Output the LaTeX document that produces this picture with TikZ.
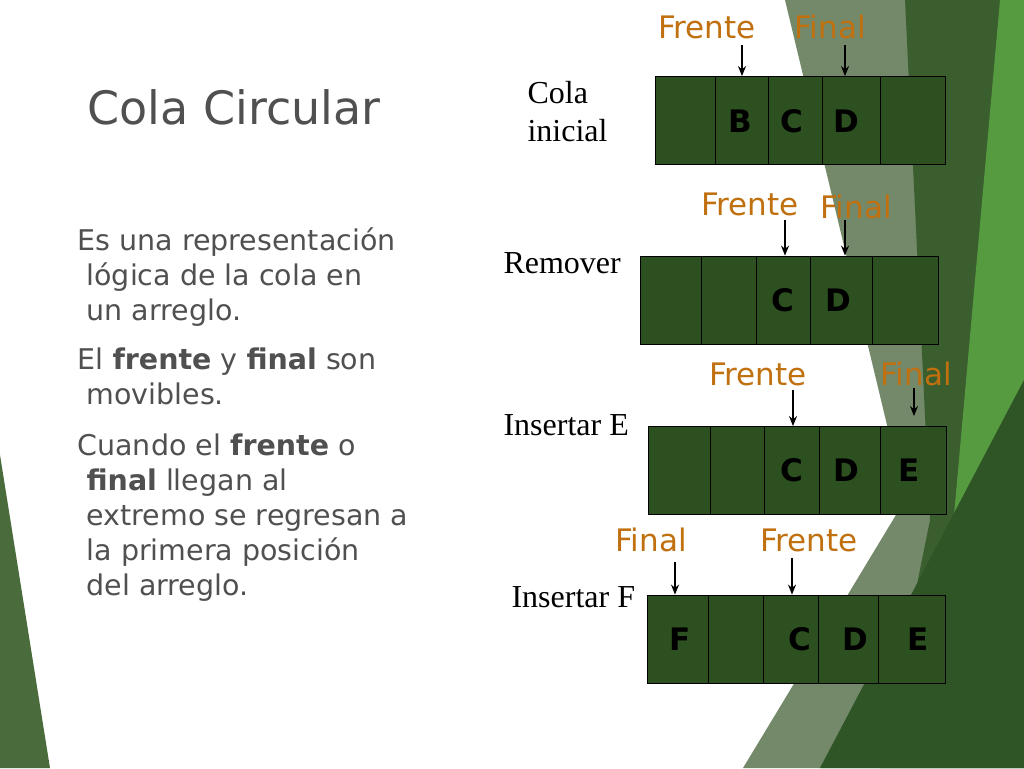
\documentclass[tikz,border=0pt]{standalone}
\usepackage{fontspec}
\setmainfont{Liberation Serif}
\newfontfamily\slidefont{DejaVu Sans}
\newfontfamily\cellfont{DejaVu Sans}
\usetikzlibrary{arrows.meta, calc}
\definecolor{cellgreen}{HTML}{2D5020}
\definecolor{ptrorange}{HTML}{C0700F}
\definecolor{textgrey}{HTML}{505050}
\definecolor{bgmid}{HTML}{74896A}
\definecolor{bgdark}{HTML}{3A5E2E}
\definecolor{bgbright}{HTML}{569B40}
\definecolor{bgdeep}{HTML}{2F5426}
\definecolor{bgleft}{HTML}{4A6B3B}
\tikzset{
  cellbox/.style={draw=black, fill=cellgreen, line width=0.9pt, minimum height=88pt, inner sep=0pt},
  letter/.style={font=\cellfont\bfseries\fontsize{31}{31}\selectfont, text=black},
  ptrlbl/.style={font=\slidefont\fontsize{31}{31}\selectfont, text=ptrorange},
  steplbl/.style={font=\fontsize{32}{38}\selectfont, text=black, anchor=west, align=left},
  ptr/.style={-{Stealth[length=10pt,width=8pt]}, line width=1.2pt},
  body/.style={font=\slidefont\fontsize{28.5}{35}\selectfont, text=textgrey, anchor=north west, align=left}
}
\begin{document}
\begin{tikzpicture}[x=1pt, y=-1pt]
    \useasboundingbox (0,0) rectangle (1024,768);

    % BACKGROUND
    \fill[white] (0,0) rectangle (1024,768);
    \fill[bgmid] (785,0) -- (1024,0) -- (1024,768) -- (743,768) -- (905,500) -- cycle;
    \fill[bgdark] (905,0) -- (1024,0) -- (1024,768) -- (880,768) -- (930,520) -- cycle;
    \fill[bgbright] (1000,0) -- (1024,0) -- (1024,640) -- (885,730) -- (950,560) -- cycle;
    \fill[bgdeep] (1024,380) -- (1024,768) -- (820,768) -- cycle;
    \fill[bgleft] (0,455) -- (50,768) -- (0,768) -- cycle;

    % TITLE AND TEXT
    \node[font=\slidefont\fontsize{46}{46}\selectfont, text=textgrey, anchor=west] (title) at (84,107) {Cola Circular};
    \node[body] (txt1) at (74,224) {Es una representación\\\ lógica de la cola en\\\ un arreglo.};
    \node[body] (txt2) at (74,344) {El \textbf{frente} y \textbf{final} son\\\ movibles.};
    \node[body] (txt3) at (74,430) {Cuando el \textbf{frente} o\\\ \textbf{final} llegan al\\\ extremo se regresan a\\\ la primera posición\\\ del arreglo.};

    % ROW 1: COLA INICIAL
    \node[steplbl] (inicial) at (524,112) {Cola\\inicial};
    \foreach \a/\b [count=\i] in {655/715,715/768,768/822,822/880,880/945}{
        \pgfmathsetmacro{\w}{\b-\a}
        \node[cellbox, minimum width=\w pt] (ra\i) at ({(\a+\b)/2},120.5) {};
    }
    \node[letter] (bA) at (740,121) {B};
    \node[letter] (cA) at (792,121) {C};
    \node[letter] (dA) at (846,121) {D};
    \node[ptrlbl] (frA) at (707,27) {Frente};
    \node[ptrlbl] (fiA) at (830,27) {Final};
    \coordinate (pfrA) at (742,45);
    \coordinate (pfiA) at (845,45);
    \draw[ptr] (pfrA) -- (pfrA |- ra2.north);
    \draw[ptr] (pfiA) -- (pfiA |- ra4.north);

    % ROW 2: REMOVER
    \node[steplbl] (remover) at (500,263) {Remover};
    \foreach \a/\b [count=\i] in {640/701,701/756,756/810,810/872,872/938}{
        \pgfmathsetmacro{\w}{\b-\a}
        \node[cellbox, minimum width=\w pt] (rb\i) at ({(\a+\b)/2},300) {};
    }
    \node[letter] (cB) at (783,300) {C};
    \node[letter] (dB) at (838,300) {D};
    \node[ptrlbl] (frB) at (750,204) {Frente};
    \node[ptrlbl] (fiB) at (856,207) {Final};
    \coordinate (pfrB) at (785,220);
    \coordinate (pfiB) at (845,220);
    \draw[ptr] (pfrB) -- (pfrB |- rb3.north);
    \draw[ptr] (pfiB) -- (pfiB |- rb4.north);

    % ROW 3: INSERTAR E
    \node[steplbl] (insE) at (500,425) {Insertar E};
    \foreach \a/\b [count=\i] in {648/710,710/764,764/819,819/880,880/946}{
        \pgfmathsetmacro{\w}{\b-\a}
        \node[cellbox, minimum width=\w pt] (rc\i) at ({(\a+\b)/2},470.5) {};
    }
    \node[letter] (cC) at (792,470) {C};
    \node[letter] (dC) at (846,470) {D};
    \node[letter] (eC) at (909,470) {E};
    \node[ptrlbl] (frC) at (758,374) {Frente};
    \node[ptrlbl] (fiC) at (916,374) {Final};
    \coordinate (pfrC) at (793,390);
    \coordinate (pfiC) at (914,388);
    \draw[ptr] (pfrC) -- (pfrC |- rc3.north);
    \draw[ptr] (pfiC) -- ($(pfiC |- rc5.north)+(0,-10)$);

    % ROW 4: INSERTAR F
    \node[steplbl] (insF) at (508,597) {Insertar F};
    \foreach \a/\b [count=\i] in {647/708,708/763,763/818,818/878,878/945}{
        \pgfmathsetmacro{\w}{\b-\a}
        \node[cellbox, minimum width=\w pt] (rd\i) at ({(\a+\b)/2},639) {};
    }
    \node[letter] (fD) at (680,639) {F};
    \node[letter] (cD) at (800,639) {C};
    \node[letter] (dD) at (855,639) {D};
    \node[letter] (eD) at (918,639) {E};
    \node[ptrlbl] (fiD) at (651,540) {Final};
    \node[ptrlbl] (frD) at (809,540) {Frente};
    \coordinate (pfiD) at (675,562);
    \coordinate (pfrD) at (792,558);
    \draw[ptr] (pfiD) -- (pfiD |- rd1.north);
    \draw[ptr] (pfrD) -- (pfrD |- rd3.north);

\end{tikzpicture}
\end{document}
